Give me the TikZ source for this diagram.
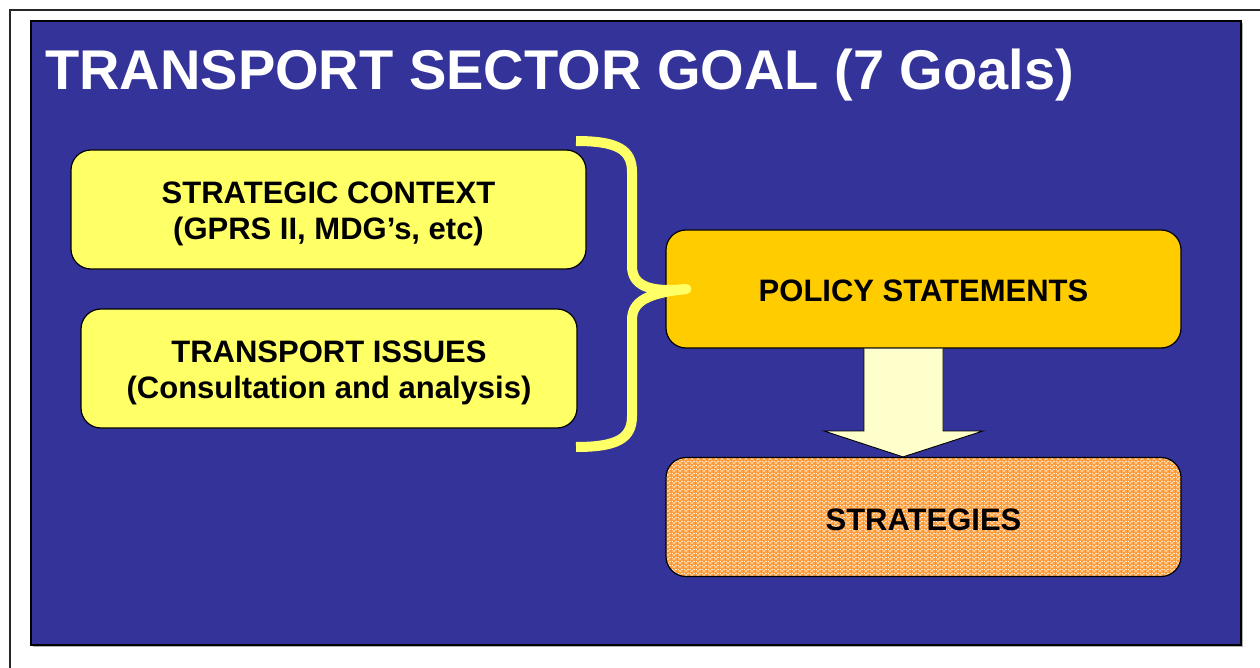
\documentclass[tikz,border=0pt]{standalone}
\usepackage{fontspec}
\setmainfont{Liberation Sans}
\usetikzlibrary{patterns}

\definecolor{slideblue}{HTML}{333399}
\definecolor{paleyellow}{HTML}{FFFF66}
\definecolor{gold}{HTML}{FFCC00}
\definecolor{cream}{HTML}{FFFFCC}
\definecolor{orangefill}{HTML}{FF9933}
\definecolor{dotcolor}{HTML}{FFEAD2}

% staggered small dashes used as the texture of the strategies box
\pgfdeclarepatternformonly{dashweave}{\pgfpointorigin}{\pgfpoint{6pt}{4pt}}{\pgfpoint{6pt}{4pt}}{%
  \pgfpathrectangle{\pgfpoint{0.6pt}{0.5pt}}{\pgfpoint{3.4pt}{1.4pt}}%
  \pgfpathrectangle{\pgfpoint{3.6pt}{2.5pt}}{\pgfpoint{2.4pt}{1.4pt}}%
  \pgfpathrectangle{\pgfpoint{0pt}{2.5pt}}{\pgfpoint{1.0pt}{1.4pt}}%
  \pgfusepath{fill}}

\tikzset{
  box/.style={draw=black, line width=1.2pt, rounded corners=20pt,
    minimum width=515pt, minimum height=119pt, inner sep=0pt},
  boxtext/.style={align=center, inner sep=0pt, text=black,
    font=\fontsize{31}{36}\selectfont\bfseries, yshift=-4pt},
  inputbox/.style={box, fill=paleyellow},
  brace/.style={draw=paleyellow, line width=10pt},
}

\begin{document}
\begin{tikzpicture}[x=1pt, y=-1pt]
  \useasboundingbox (0,0) rectangle (1260,668);

  % page frame
  \draw[line width=2.4pt, black!85] (10,668) -- (10,10) -- (1260,10);

  % slide background
  \fill[gray!60] (33,23) rectangle (1243,647);
  \draw[fill=slideblue, line width=1.2pt] (31,21) rectangle (1241,645);

  % title
  \node[anchor=base west, inner sep=0pt, text=white,
        font=\fontsize{56}{60}\selectfont\bfseries] (title) at (45,90)
        {TRANSPORT SECTOR GOAL (7 Goals)};

  % inputs
  \node[inputbox] (context) at (328.5,209.5) {};
  \node[boxtext] (contextlabel) at (context.center)
    {STRATEGIC CONTEXT\\(GPRS II, MDG’s, etc)};
  \node[inputbox, minimum width=496pt] (issues) at (329,368.5) {};
  \node[boxtext] (issueslabel) at (issues.center)
    {TRANSPORT ISSUES\\(Consultation and analysis)};

  % policy and strategies
  \node[box, fill=gold, minimum height=118pt] (policy) at (923.5,289) {};
  \node[boxtext, yshift=2pt] (policylabel) at (policy.center) {POLICY STATEMENTS};
  \node[box, draw=none, fill=orangefill,
        postaction={pattern=dashweave, pattern color=dotcolor},
        postaction={draw=black, line width=1.2pt}] (strat) at (923.5,517) {};
  \node[boxtext, yshift=1pt] (stratlabel) at (strat.center) {STRATEGIES};

  % block arrow from policy down to strategies
  \coordinate (ashaftL) at ([xshift=-59.5pt]policy.south);
  \coordinate (ashaftR) at ([xshift=19.5pt]policy.south);
  \coordinate (atip) at ([xshift=-20.5pt]strat.north);
  \draw[fill=cream, line width=0.9pt, line join=miter]
    (ashaftL) -- (ashaftL |- 0,431) -- (824,431) -- (atip)
    -- (983,431) -- (ashaftR |- 0,431) -- (ashaftR);

  % curly brace gathering the two inputs
  \coordinate (bracetop) at (576,141);
  \coordinate (bracebot) at (576,447);
  \coordinate (bracetip) at ([xshift=21pt]policy.west);
  \draw[brace] (bracetop) .. controls (618,141) and (632,150) .. (632,172)
    -- (632,266) .. controls (632,285) and (648,293) .. (bracetip);
  \draw[brace] (bracebot) .. controls (618,447) and (632,438) .. (632,416)
    -- (632,320) .. controls (632,301) and (648,293) .. (bracetip);
  \fill[paleyellow] (bracetip) circle (5pt);
\end{tikzpicture}
\end{document}
